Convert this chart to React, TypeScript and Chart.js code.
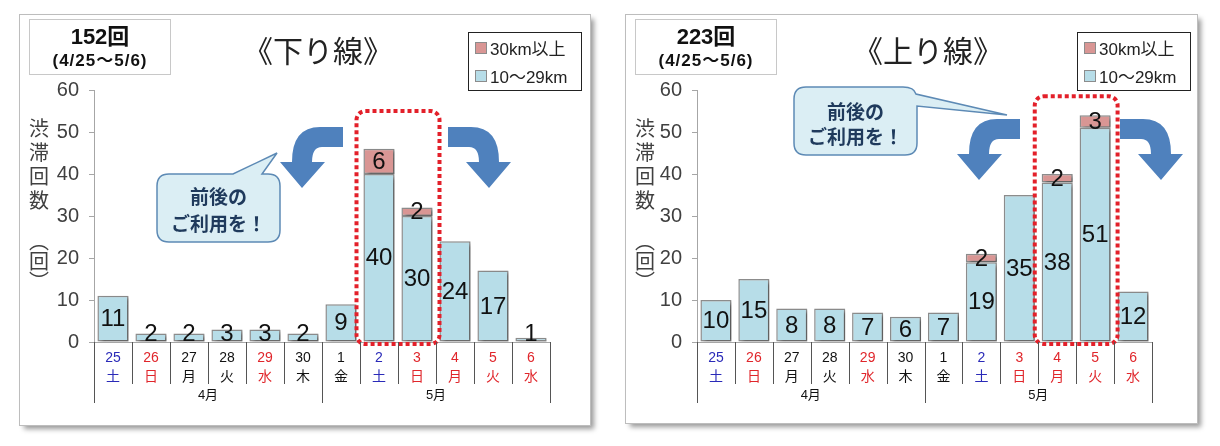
import { useEffect, useRef } from "react"
import { Chart, registerables } from "chart.js"

Chart.register(...registerables)

// x axis: day / weekday / month
const days = ["25", "26", "27", "28", "29", "30", "1", "2", "3", "4", "5", "6"]
const weekdays = ["土", "日", "月", "火", "水", "木", "金", "土", "日", "月", "火", "水"]
const dayColors = ["#2a2ab8", "#e0262b", "#111", "#111", "#e0262b", "#111", "#111", "#2a2ab8", "#e0262b", "#e0262b", "#e0262b", "#e0262b"]
const months = ["4月", "5月"]
const monthDays = [6, 6]

const seriesNames = ["10～29km", "30km以上"]

// 下り線
const downShort = [11, 2, 2, 3, 3, 2, 9, 40, 30, 24, 17, 1]
const downLong = [0, 0, 0, 0, 0, 0, 0, 6, 2, 0, 0, 0]
// 上り線
const upShort = [10, 15, 8, 8, 7, 6, 7, 19, 35, 38, 51, 12]
const upLong = [0, 0, 0, 0, 0, 0, 0, 2, 0, 2, 3, 0]

const yTitle = "渋滞回数"
const yUnit = "（回）"

const SANS = "'Liberation Sans', Arial, 'Noto Sans CJK JP', sans-serif"
const JP = "'Noto Sans CJK JP', 'Noto Sans', sans-serif"
const BLUE = "#b7dde8"
const PINK = "#d99694"

type PanelProps = {
  left: number
  top: number
  width: number
  height: number
  plotLeft: number
  plotRight: number
  short: number[]
  long: number[]
  highlight: number[]
  highlightTop: number
  total: string
  title: string
  titleX: number
  legendX: number
}

function ChartPanel(p: PanelProps) {
  const chartRef = useRef<HTMLCanvasElement>(null)
  const chartInstance = useRef<Chart | null>(null)

  useEffect(() => {
    if (!chartRef.current) return
    if (chartInstance.current) chartInstance.current.destroy()
    const ctx = chartRef.current.getContext("2d")
    if (!ctx) return

    const plotBottom = 327

    // shadows, value labels, separators, month row, highlight box
    const decor = {
      id: "decor",
      beforeDatasetsDraw(chart: any) {
        const c = chart.ctx
        c.save()
        c.shadowColor = "rgba(0,0,0,0.35)"
        c.shadowOffsetX = 3
        c.shadowOffsetY = 2
        c.shadowBlur = 3
      },
      afterDatasetsDraw(chart: any) {
        const c = chart.ctx
        c.restore()
        const area = chart.chartArea
        c.save()
        c.fillStyle = "#111"
        c.font = `24px ${SANS}`
        c.textAlign = "center"
        c.textBaseline = "middle"
        chart.data.datasets.forEach((ds: any, di: number) => {
          const meta = chart.getDatasetMeta(di)
          meta.data.forEach((el: any, i: number) => {
            const v = ds.data[i]
            if (!v) return
            let y = (el.y + el.base) / 2
            if (di === 0) y = Math.min(y, area.bottom - 9)
            c.fillText(String(v), el.x, y + 1)
          })
        })
        c.restore()

        // highlight box
        const x = chart.scales.x
        const yS = chart.scales.y
        const l = x.getPixelForValue(p.highlight[0] - 0.5) - 3.5
        const r = x.getPixelForValue(p.highlight[p.highlight.length - 1] + 0.5) + 3.5
        const t = yS.getPixelForValue(p.highlightTop)
        const b = area.bottom + 2
        c.save()
        c.strokeStyle = "#e3202a"
        c.lineWidth = 4
        c.setLineDash([4, 3])
        c.beginPath()
        c.roundRect(l, t, r - l, b - t, 9)
        c.stroke()
        c.restore()
      },
      afterDraw(chart: any) {
        const c = chart.ctx
        const x = chart.scales.x
        const base = chart.chartArea.bottom
        c.save()
        c.strokeStyle = "#555"
        c.lineWidth = 1
        for (let i = 0; i <= days.length; i++) {
          const px = Math.round(x.getPixelForValue(i - 0.5)) + 0.5
          c.beginPath()
          c.moveTo(px, base)
          c.lineTo(px, base + 42)
          c.stroke()
        }
        const edges = [0]
        monthDays.forEach((n) => edges.push(edges[edges.length - 1] + n))
        edges.forEach((e) => {
          const px = Math.round(x.getPixelForValue(e - 0.5)) + 0.5
          c.beginPath()
          c.moveTo(px, base)
          c.lineTo(px, base + 61)
          c.stroke()
        })
        c.fillStyle = "#111"
        c.font = `13px ${SANS}`
        c.textAlign = "center"
        c.textBaseline = "middle"
        months.forEach((m, k) => {
          const a = x.getPixelForValue(edges[k] - 0.5)
          const bb = x.getPixelForValue(edges[k + 1] - 0.5)
          c.fillText(m, (a + bb) / 2, base + 53)
        })
        c.restore()
      },
    }

    chartInstance.current = new Chart(ctx, {
      type: "bar",
      data: {
        labels: days.map((d, i) => [d, weekdays[i]]),
        datasets: [
          {
            label: seriesNames[0],
            data: p.short,
            backgroundColor: BLUE,
            borderColor: "#8c8c8c",
            borderWidth: 1.5,
            borderSkipped: false,
          },
          {
            label: seriesNames[1],
            data: p.long.map((v) => (v ? v : null)),
            backgroundColor: PINK,
            borderColor: "#8c8c8c",
            borderWidth: 1.5,
            borderSkipped: false,
          },
        ],
      },
      options: {
        animation: false,
        responsive: true,
        maintainAspectRatio: false,
        layout: { padding: { left: 0, right: p.width - p.plotRight, top: 75, bottom: 0 } },
        datasets: { bar: { categoryPercentage: 1, barPercentage: 0.82 } },
        plugins: { legend: { display: false }, tooltip: { enabled: false } },
        scales: {
          x: {
            stacked: true,
            grid: { display: false },
            border: { display: true, color: "#a6a6a6", width: 1 },
            ticks: {
              autoSkip: false,
              maxRotation: 0,
              padding: -2,
              color: (c: any) => dayColors[c.index],
              font: { size: 14, family: SANS, lineHeight: 1.4 },
            },
            afterFit: (s: any) => {
              s.height = p.height - plotBottom
            },
          },
          y: {
            stacked: true,
            min: 0,
            max: 60,
            ticks: { stepSize: 10, padding: 10, color: "#404040", font: { size: 20, family: SANS } },
            grid: { drawOnChartArea: false, tickLength: 5, color: "#a6a6a6" },
            border: { color: "#a6a6a6" },
            afterFit: (s: any) => {
              s.width = p.plotLeft
            },
          },
        },
      },
      plugins: [decor],
    })

    return () => {
      if (chartInstance.current) {
        chartInstance.current.destroy()
        chartInstance.current = null
      }
    }
  }, [])

  const vertical = {
    position: "absolute",
    left: 8.5,
    writingMode: "vertical-rl",
    font: `20px ${JP}`,
    lineHeight: "20px",
    color: "#404040",
  } as const

  return (
    <div
      style={{
        position: "absolute",
        left: p.left,
        top: p.top,
        width: p.width,
        height: p.height,
        background: "#fff",
        boxShadow: "0 0 0 1px #bdbdbd, 4px 4px 5px rgba(0,0,0,0.4)",
      }}
    >
      <div style={{ position: "absolute", left: 0, top: 0, width: p.width, height: p.height }}>
        <canvas ref={chartRef} />
      </div>
      <div
        style={{
          position: "absolute",
          left: 9,
          top: 4,
          width: 142,
          height: 56,
          border: "1px solid #c8c8c8",
          boxSizing: "border-box",
          textAlign: "center",
          color: "#111",
        }}
      >
        <div style={{ font: `bold 22px ${SANS}`, lineHeight: "26px", marginTop: 4 }}>{p.total}</div>
        <div style={{ font: `bold 17px ${SANS}`, lineHeight: "22px", letterSpacing: 1 }}>(4/25～5/6)</div>
      </div>
      <div
        style={{
          position: "absolute",
          left: p.titleX - 100,
          width: 200,
          top: 14,
          textAlign: "center",
          font: `30px ${JP}`,
          lineHeight: "40px",
          color: "#222",
        }}
      >
        {p.title}
      </div>
      <div
        style={{
          position: "absolute",
          left: p.legendX,
          top: 17,
          width: 114,
          height: 59,
          border: "1.5px solid #222",
          boxSizing: "border-box",
          font: `17px ${SANS}`,
          color: "#222",
          paddingLeft: 6,
        }}
      >
        {[
          { name: seriesNames[1], color: PINK },
          { name: seriesNames[0], color: BLUE },
        ].map((it) => (
          <div key={it.name} style={{ display: "flex", alignItems: "center", height: 27, marginTop: 1 }}>
            <span
              style={{
                display: "inline-block",
                width: 10,
                height: 10,
                background: it.color,
                border: "1px solid #8c8c8c",
                marginRight: 3,
              }}
            />
            {it.name}
          </div>
        ))}
      </div>
      <div style={{ ...vertical, top: 103, letterSpacing: 4 }}>{yTitle}</div>
      <div style={{ ...vertical, top: 216 }}>{yUnit}</div>
    </div>
  )
}

const arrowPath = "M63,2 L40,2 Q12,2 12,37 L0,37 L22,63 L45,37 L32,37 Q32,22 42,22 L63,22 Z"

function Overlay() {
  const bubbleText = { fontFamily: JP, fontSize: 19, fill: "#1f3a5c", fontWeight: "bold" } as const
  return (
    <svg
      width={1220}
      height={446}
      style={{ position: "absolute", left: 0, top: 0, pointerEvents: "none" }}
    >
      <g fill="#4f81bd">
        <path d={arrowPath} transform="translate(280,125)" />
        <path d={arrowPath} transform="translate(511,125) scale(-1,1)" />
        <path d={arrowPath} transform="translate(957,117)" />
        <path d={arrowPath} transform="translate(1183,117) scale(-1,1)" />
      </g>
      <g fill="#dbeef4" stroke="#5d8ab5" strokeWidth={1.5}>
        <path d="M169,174 L233,174 L277,153 L262,174 L268,174 Q280,174 280,186 L280,230 Q280,242 268,242 L169,242 Q157,242 157,230 L157,186 Q157,174 169,174 Z" />
        <path d="M806,87 L903,87 Q914,87 916,94 L1007,115 L917,106 L917,143 Q917,155 905,155 L806,155 Q794,155 794,143 L794,99 Q794,87 806,87 Z" />
      </g>
      <g textAnchor="middle" dominantBaseline="central" style={bubbleText as any}>
        <text x={218.5} y={195}>前後の</text>
        <text x={218.5} y={222}>ご利用を！</text>
        <text x={855.5} y={110}>前後の</text>
        <text x={855.5} y={135}>ご利用を！</text>
      </g>
    </svg>
  )
}

export default function App() {
  return (
    <div style={{ position: "absolute", left: 0, top: 0, width: 1220, height: 446, background: "#fff", overflow: "hidden" }}>
      <ChartPanel
        left={20}
        top={15}
        width={570}
        height={410}
        plotLeft={74}
        plotRight={530}
        short={downShort}
        long={downLong}
        highlight={[7, 8]}
        highlightTop={55}
        total="152回"
        title="《下り線》"
        titleX={298}
        legendX={448}
      />
      <ChartPanel
        left={626}
        top={15}
        width={571}
        height={408}
        plotLeft={71}
        plotRight={526}
        short={upShort}
        long={upLong}
        highlight={[9, 10]}
        highlightTop={58.5}
        total="223回"
        title="《上り線》"
        titleX={302}
        legendX={451}
      />
      <Overlay />
    </div>
  )
}
